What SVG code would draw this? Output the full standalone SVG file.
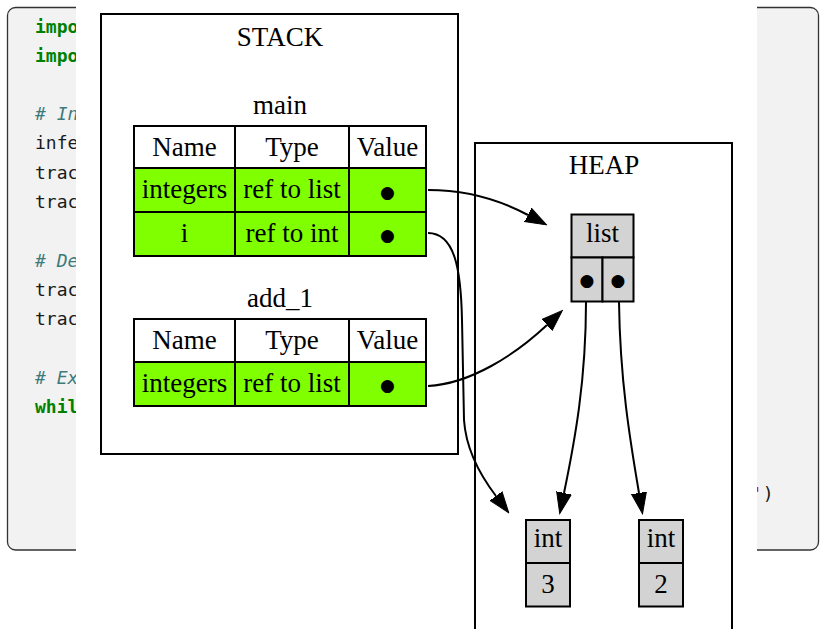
<svg xmlns="http://www.w3.org/2000/svg" width="820" height="629" viewBox="0 0 820 629">
  <style>
    .code { font-family: "DejaVu Sans Mono", monospace; font-size: 18px; fill: #1a1a1a; }
    .kw { font-weight: bold; fill: #008000; }
    .cm { font-style: italic; fill: #3d7b7b; }
    .str { fill: #ba2121; }
    .lbl { font-family: "Liberation Serif", "Times New Roman", serif; font-size: 27px; fill: #000; text-anchor: middle; }
    .dot { font-family: "DejaVu Sans", sans-serif; font-size: 17px; fill: #000; text-anchor: middle; }
    .cluster { fill: #fff; stroke: #000; stroke-width: 2; }
    .hcell { fill: #fff; stroke: #000; stroke-width: 2; }
    .gcell { fill: #7fff00; stroke: #000; stroke-width: 2; }
    .obj { fill: #d3d3d3; stroke: #000; stroke-width: 2; }
    .edge { fill: none; stroke: #000; stroke-width: 2; }
  </style>
  <defs>
    <marker id="arrow" markerUnits="userSpaceOnUse" markerWidth="22" markerHeight="18" refX="0" refY="8" orient="auto" viewBox="0 -1 22 18">
      <path d="M0,0.5 L21,8 L0,15.5 z" fill="#000" stroke="#000" stroke-width="1"/>
    </marker>
  </defs>

  <!-- code listing panel behind the diagram -->
  <g id="code-panel">
    <rect x="7.5" y="7.5" width="811" height="542.5" rx="8" ry="8" fill="#f2f2f2" stroke="#333" stroke-width="1.3"/>
    <text class="code kw" x="35" y="33">impo</text>
    <text class="code kw" x="35" y="62">impo</text>
    <text class="code cm" x="35" y="120"># In</text>
    <text class="code" x="35" y="149">infe</text>
    <text class="code" x="35" y="179">trac</text>
    <text class="code" x="35" y="208">trac</text>
    <text class="code cm" x="35" y="267"># De</text>
    <text class="code" x="35" y="296">trac</text>
    <text class="code" x="35" y="325">trac</text>
    <text class="code cm" x="35" y="384"># Ex</text>
    <text class="code kw" x="35" y="413">whil</text>
    <text class="code" x="752" y="500"><tspan class="str">'</tspan>)</text>
  </g>

  <!-- white backdrop of the memory diagram -->
  <rect x="76" y="0" width="681" height="629" fill="#fff"/>

  <!-- STACK cluster -->
  <g id="stack">
    <rect class="cluster" x="101" y="14" width="357" height="440"/>
    <text class="lbl" x="280" y="46">STACK</text>
  </g>

  <!-- frame: main -->
  <g id="frame-main">
    <text class="lbl" x="280" y="114">main</text>
    <rect class="hcell" x="134" y="126" width="101" height="42"/>
    <rect class="hcell" x="235" y="126" width="114" height="42"/>
    <rect class="hcell" x="349" y="126" width="77" height="42"/>
    <text class="lbl" x="184.5" y="156">Name</text>
    <text class="lbl" x="292" y="156">Type</text>
    <text class="lbl" x="387.5" y="156">Value</text>
    <rect class="gcell" x="134" y="168" width="101" height="44"/>
    <rect class="gcell" x="235" y="168" width="114" height="44"/>
    <rect class="gcell" x="349" y="168" width="77" height="44"/>
    <text class="lbl" x="184.5" y="198">integers</text>
    <text class="lbl" x="292" y="198">ref to list</text>
    <text class="dot" x="387.5" y="197.5">●</text>
    <rect class="gcell" x="134" y="212" width="101" height="44"/>
    <rect class="gcell" x="235" y="212" width="114" height="44"/>
    <rect class="gcell" x="349" y="212" width="77" height="44"/>
    <text class="lbl" x="184.5" y="242">i</text>
    <text class="lbl" x="292" y="242">ref to int</text>
    <text class="dot" x="387.5" y="240.5">●</text>
  </g>

  <!-- frame: add_1 -->
  <g id="frame-add_1">
    <text class="lbl" x="280" y="307">add_1</text>
    <rect class="hcell" x="134" y="319" width="101" height="43"/>
    <rect class="hcell" x="235" y="319" width="114" height="43"/>
    <rect class="hcell" x="349" y="319" width="77" height="43"/>
    <text class="lbl" x="184.5" y="349">Name</text>
    <text class="lbl" x="292" y="349">Type</text>
    <text class="lbl" x="387.5" y="349">Value</text>
    <rect class="gcell" x="134" y="362" width="101" height="44"/>
    <rect class="gcell" x="235" y="362" width="114" height="44"/>
    <rect class="gcell" x="349" y="362" width="77" height="44"/>
    <text class="lbl" x="184.5" y="392">integers</text>
    <text class="lbl" x="292" y="392">ref to list</text>
    <text class="dot" x="387.5" y="390.5">●</text>
  </g>

  <!-- HEAP cluster -->
  <g id="heap">
    <rect class="cluster" x="475" y="143" width="257" height="500"/>
    <text class="lbl" x="604" y="174">HEAP</text>
  </g>

  <!-- list object -->
  <g id="list">
    <rect class="obj" x="571.5" y="214.5" width="62" height="43"/>
    <rect class="obj" x="571.5" y="257.5" width="31" height="44"/>
    <rect class="obj" x="602.5" y="257.5" width="31" height="44"/>
    <text class="lbl" x="602.5" y="242">list</text>
    <text class="dot" x="587" y="285.5">●</text>
    <text class="dot" x="618" y="285.5">●</text>
  </g>

  <!-- int objects -->
  <g id="int3">
    <rect class="obj" x="526" y="520" width="44" height="43"/>
    <rect class="obj" x="526" y="563" width="44" height="43.5"/>
    <text class="lbl" x="548" y="546.5">int</text>
    <text class="lbl" x="548" y="593">3</text>
  </g>
  <g id="int2">
    <rect class="obj" x="639" y="520" width="44" height="43"/>
    <rect class="obj" x="639" y="563" width="44" height="43.5"/>
    <text class="lbl" x="661" y="546.5">int</text>
    <text class="lbl" x="661" y="593">2</text>
  </g>

  <!-- references -->
  <g id="connectors">
    <path class="edge" marker-end="url(#arrow)" d="M428,190 C465,190 500,200 528,215"/>
    <path class="edge" marker-end="url(#arrow)" d="M428,233 C455,233 461,270 462,320 L464,420 C466,450 480,475 496,496"/>
    <path class="edge" marker-end="url(#arrow)" d="M428,386 C470,384 515,355 547,325"/>
    <path class="edge" marker-end="url(#arrow)" d="M586,302 C586,380 575,440 564,493"/>
    <path class="edge" marker-end="url(#arrow)" d="M619,302 C620,380 630,440 639,493"/>
  </g>
</svg>
